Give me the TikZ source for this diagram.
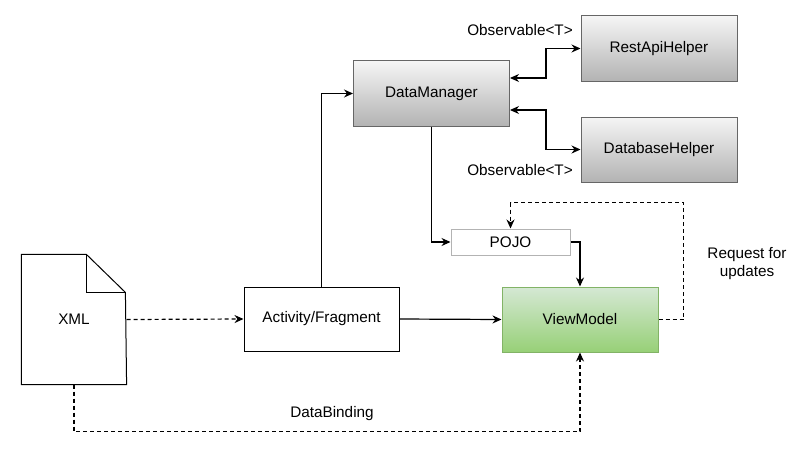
\documentclass[tikz,border=0pt]{standalone}
\usepackage{fontspec}
\setmainfont{Liberation Sans}
\usetikzlibrary{arrows.meta}
\definecolor{boxline}{HTML}{666666}
\definecolor{graytop}{HTML}{F5F5F5}
\definecolor{graybot}{HTML}{B3B3B3}
\definecolor{greenline}{HTML}{82B366}
\definecolor{greentop}{HTML}{D5E8D4}
\definecolor{greenbot}{HTML}{97D077}
\begin{document}
\begin{tikzpicture}[x=1pt,y=-1pt,
		font=\fontsize{15.3}{18}\selectfont,
		every node/.style={inner sep=0pt},
		>={Stealth[length=9pt,width=8pt]},
		line width=1.2pt,
		plainbox/.style={draw=black,line width=1pt,minimum width=155pt,minimum height=64pt},
		graybox/.style={draw=boxline,line width=1pt,top color=graytop,bottom color=graybot,minimum width=156pt,minimum height=65pt},
		greenbox/.style={draw=greenline,line width=1pt,top color=greentop,bottom color=greenbot,minimum width=156pt,minimum height=65pt},
		link/.style={->},
		dashlink/.style={->,dashed,dash pattern=on 4pt off 3pt}]
	\useasboundingbox (0,0) rectangle (800,452);
	% boxes
		\node [graybox] (manager) at (431.5,93.5) {DataManager};
		\node [graybox] (rest) at (659,48.5) {RestApiHelper};
		\node [graybox] (database) at (659,149.5) {DatabaseHelper};
		\node [draw=graybot,line width=1pt,minimum width=119pt,minimum height=26pt] (pojo) at (510.5,242) {POJO};
		\node [greenbox] (viewmodel) at (580,319.5) {ViewModel};
		\node [plainbox] (activity) at (321.5,319) {Activity/Fragment};
	% xml page
		\node [minimum width=104pt,minimum height=129pt] (xml) at (74,319.5) {XML};
		\draw [line width=1pt] (xml.north west) -- ++(65,0) -- ++(39,38) -- (xml.south east) -- (xml.south west) -- cycle;
		\draw [line width=1pt] ([xshift=65pt]xml.north west) -- ++(0,38) -- ++(39,0);
	% helpers
		\draw [<->] ([yshift=15.5pt]manager.east) -- ++(36,0) |- (rest.west);
		\draw [<->] ([yshift=-16.5pt]manager.east) -- ++(36,0) |- (database.west);
		\node (obsrest) at (520,30) {Observable<T>};
		\node (obsdb) at (520,170) {Observable<T>};
	% flow
		\draw [link] (activity.north) |- (manager.west);
		\draw [link] (manager.south) |- (pojo.west);
		\draw [link] (pojo.east) -| (viewmodel.north);
		\draw [link] (activity.east) -- (viewmodel.west);
		\draw [dashlink] (xml.east) -- (activity.west);
	% requests
		\draw [dashlink] (viewmodel.east) -- ++(25,0) |- ([yshift=26pt]pojo.north) -- (pojo.north);
		\node [align=center] (request) at (747,264) {Request for\\updates};
	% binding
		\draw [dashlink] (xml.south) -- ++(0,47) -| (viewmodel.south);
		\node (binding) at (332,414) {DataBinding};
\end{tikzpicture}
\end{document}
